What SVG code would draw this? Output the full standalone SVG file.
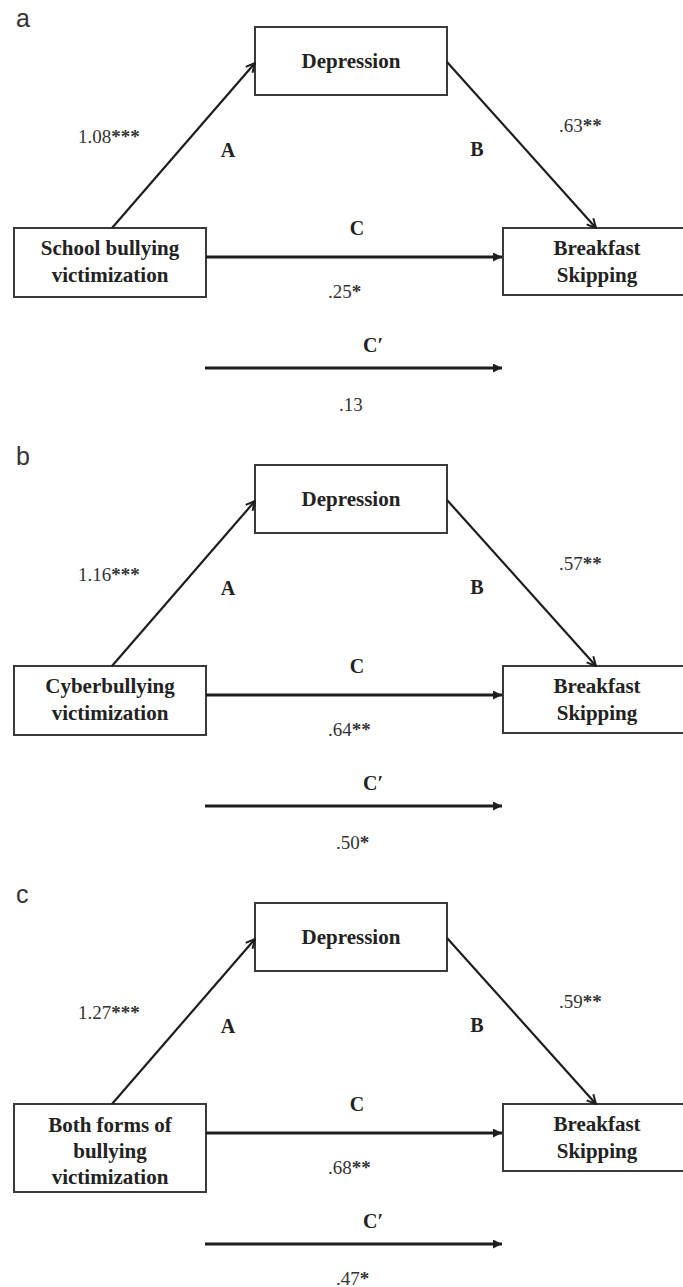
<svg xmlns="http://www.w3.org/2000/svg" width="683" height="1287" viewBox="0 0 683 1287">
<defs>
<style>
.box{fill:#fff;stroke:#3a3a3a;stroke-width:2}
.nt{font-family:"Liberation Serif","Times New Roman",serif;font-weight:bold;font-size:21px;fill:#222;text-anchor:middle}
.pl{font-family:"Liberation Serif","Times New Roman",serif;font-weight:bold;font-size:20px;fill:#222;text-anchor:middle}
.cf{font-family:"Liberation Serif","Times New Roman",serif;font-size:19px;fill:#333}
.st{font-weight:bold}
.lab{font-family:"Liberation Sans",Arial,sans-serif;font-size:25px;fill:#333}
.ln{stroke:#1e1e1e;stroke-width:2.2;fill:none}
.hz{stroke:#1e1e1e;stroke-width:3;fill:none}
</style>
<marker id="open" viewBox="0 0 12 12" refX="11" refY="6" markerWidth="12" markerHeight="12" markerUnits="userSpaceOnUse" orient="auto">
<path d="M2,1.5 L11,6 L2,10.5" fill="none" stroke="#1e1e1e" stroke-width="2"/>
</marker>
<marker id="fill" viewBox="0 0 10 10" refX="10" refY="5" markerWidth="10" markerHeight="9" markerUnits="userSpaceOnUse" orient="auto">
<path d="M0,0 L10,5 L0,10 Z" fill="#1e1e1e"/>
</marker>
</defs>
<rect width="683" height="1287" fill="#fff"/>

<!-- Panel a -->
<text class="lab" x="16" y="27">a</text>
<g id="a-depression"><rect class="box" x="255" y="27" width="192" height="68"/><text class="nt" x="351" y="68">Depression</text></g>
<g id="a-school"><rect class="box" x="14" y="228" width="192" height="69"/><text class="nt" x="110" y="255">School bullying</text><text class="nt" x="110" y="282">victimization</text></g>
<g id="a-breakfast"><rect class="box" x="503" y="228" width="192" height="67"/><text class="nt" x="597" y="255">Breakfast</text><text class="nt" x="597" y="282">Skipping</text></g>
<g id="a-connectors">
<line class="ln" x1="112" y1="228" x2="255" y2="63" marker-end="url(#open)"/>
<line class="ln" x1="447" y1="62" x2="596" y2="228" marker-end="url(#open)"/>
<line class="hz" x1="206" y1="257" x2="502" y2="257" marker-end="url(#fill)"/>
<line class="hz" x1="205" y1="368" x2="502" y2="368" marker-end="url(#fill)"/>
</g>
<g id="a-labels">
<text class="cf" x="78" y="143">1.08<tspan class="st">***</tspan></text>
<text class="pl" x="228" y="157">A</text>
<text class="pl" x="477" y="156">B</text>
<text class="cf" x="559" y="132">.63<tspan class="st">**</tspan></text>
<text class="pl" x="357" y="235">C</text>
<text class="cf" x="328" y="298">.25<tspan class="st">*</tspan></text>
<text class="pl" x="373" y="352">C′</text>
<text class="cf" x="339" y="411">.13</text>
</g>

<!-- Panel b -->
<text class="lab" x="16" y="465">b</text>
<g id="b-depression"><rect class="box" x="255" y="465" width="192" height="68"/><text class="nt" x="351" y="506">Depression</text></g>
<g id="b-cyber"><rect class="box" x="14" y="666" width="192" height="69"/><text class="nt" x="110" y="693">Cyberbullying</text><text class="nt" x="110" y="720">victimization</text></g>
<g id="b-breakfast"><rect class="box" x="503" y="666" width="192" height="67"/><text class="nt" x="597" y="693">Breakfast</text><text class="nt" x="597" y="720">Skipping</text></g>
<g id="b-connectors">
<line class="ln" x1="112" y1="666" x2="255" y2="501" marker-end="url(#open)"/>
<line class="ln" x1="447" y1="500" x2="596" y2="666" marker-end="url(#open)"/>
<line class="hz" x1="206" y1="695" x2="502" y2="695" marker-end="url(#fill)"/>
<line class="hz" x1="205" y1="806" x2="502" y2="806" marker-end="url(#fill)"/>
</g>
<g id="b-labels">
<text class="cf" x="78" y="581">1.16<tspan class="st">***</tspan></text>
<text class="pl" x="228" y="595">A</text>
<text class="pl" x="477" y="594">B</text>
<text class="cf" x="559" y="570">.57<tspan class="st">**</tspan></text>
<text class="pl" x="357" y="673">C</text>
<text class="cf" x="328" y="736">.64<tspan class="st">**</tspan></text>
<text class="pl" x="373" y="790">C′</text>
<text class="cf" x="336" y="849">.50<tspan class="st">*</tspan></text>
</g>

<!-- Panel c -->
<text class="lab" x="16" y="903">c</text>
<g id="c-depression"><rect class="box" x="255" y="903" width="192" height="68"/><text class="nt" x="351" y="944">Depression</text></g>
<g id="c-both"><rect class="box" x="14" y="1104" width="192" height="88"/><text class="nt" x="110" y="1132">Both forms of</text><text class="nt" x="110" y="1158">bullying</text><text class="nt" x="110" y="1184">victimization</text></g>
<g id="c-breakfast"><rect class="box" x="503" y="1104" width="192" height="67"/><text class="nt" x="597" y="1131">Breakfast</text><text class="nt" x="597" y="1158">Skipping</text></g>
<g id="c-connectors">
<line class="ln" x1="112" y1="1104" x2="255" y2="939" marker-end="url(#open)"/>
<line class="ln" x1="447" y1="938" x2="596" y2="1104" marker-end="url(#open)"/>
<line class="hz" x1="206" y1="1133" x2="502" y2="1133" marker-end="url(#fill)"/>
<line class="hz" x1="205" y1="1244" x2="502" y2="1244" marker-end="url(#fill)"/>
</g>
<g id="c-labels">
<text class="cf" x="78" y="1019">1.27<tspan class="st">***</tspan></text>
<text class="pl" x="228" y="1033">A</text>
<text class="pl" x="477" y="1032">B</text>
<text class="cf" x="559" y="1008">.59<tspan class="st">**</tspan></text>
<text class="pl" x="357" y="1111">C</text>
<text class="cf" x="328" y="1174">.68<tspan class="st">**</tspan></text>
<text class="pl" x="373" y="1228">C′</text>
<text class="cf" x="336" y="1285">.47<tspan class="st">*</tspan></text>
</g>
</svg>
